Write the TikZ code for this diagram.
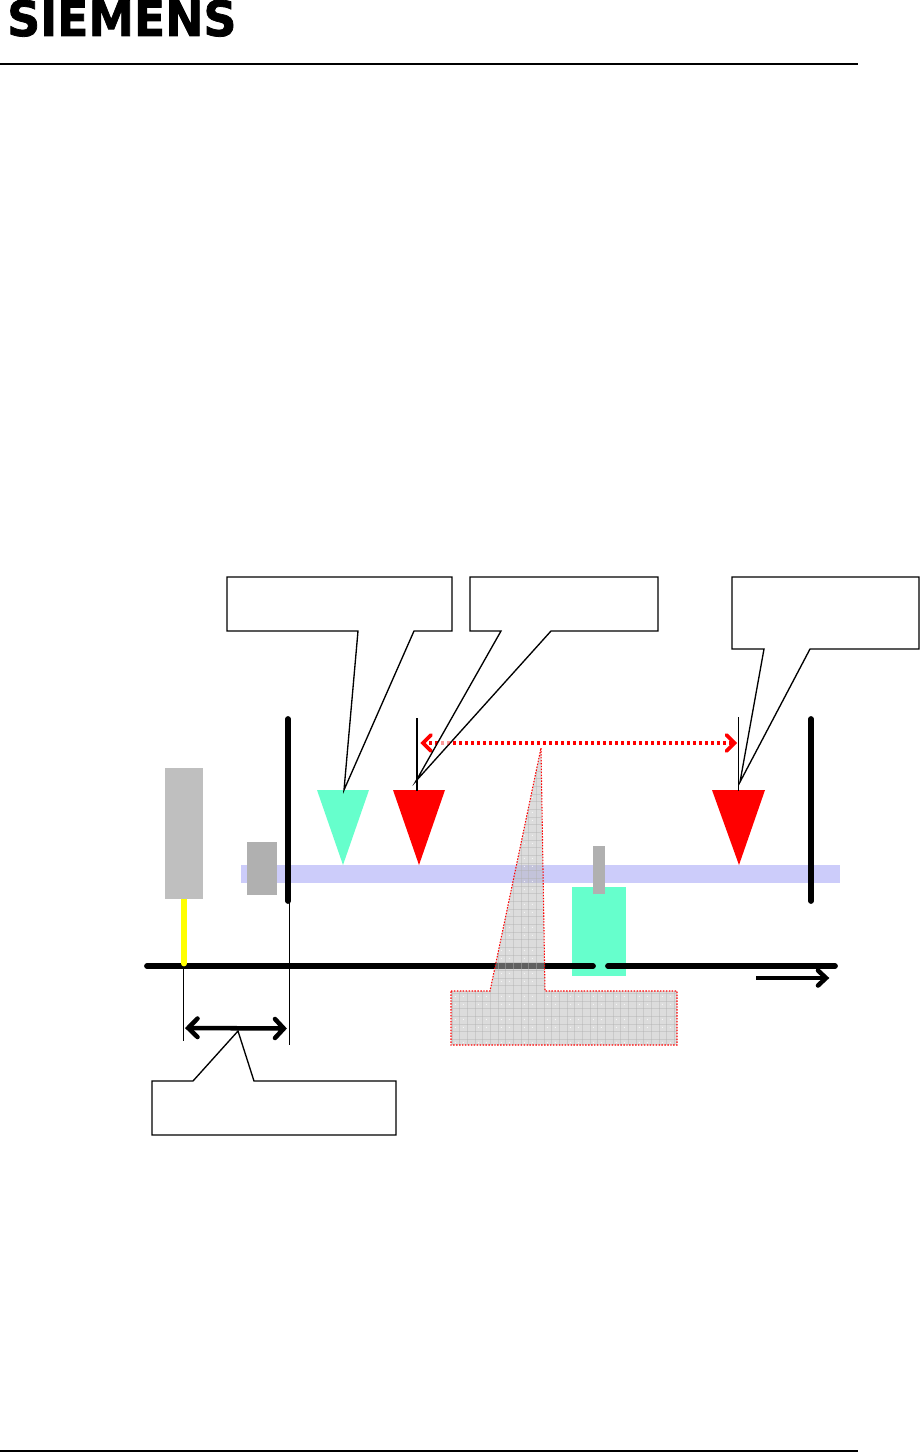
\documentclass[tikz,border=0pt]{standalone}
\usepackage{fontspec}
\setmainfont{DejaVu Sans}[BoldFeatures={FakeBold=1.6}]
\definecolor{mint}{RGB}{102,255,204}
\definecolor{lav}{RGB}{204,204,250}
\definecolor{sens}{RGB}{191,191,191}
\definecolor{block}{RGB}{176,176,176}
\definecolor{glass}{RGB}{188,188,188}
\definecolor{puryellow}{RGB}{255,255,0}
\definecolor{purred}{RGB}{255,0,0}
\tikzset{
  x=0.75pt,y=-0.75pt,
  rule/.style={draw=black,line width=0.9pt},
  thin line/.style={draw=black,line width=0.8pt},
  bar/.style={draw=black,line width=4.3pt,line cap=round},
  callout/.style={draw=black,fill=white,line width=1pt,line join=miter},
  mintfill/.style={fill=mint,draw=none},
  redtri/.style={fill=purred,draw=none},
  kshaft/.style={draw=black,line width=3.4pt},
  khead/.style={draw=black,line width=3.4pt,line cap=round,line join=miter},
  rshaft/.style={draw=purred,line width=2.5pt,dash pattern=on 2.4pt off 2.1pt},
  rhead/.style={draw=purred,line width=2.7pt,line cap=round,line join=miter},
}
\begin{document}
\begin{tikzpicture}
\useasboundingbox (0,0) rectangle (921,1452);
\fill[white] (0,0) rectangle (921,1452);
% header and footer
\node[anchor=base west,inner sep=0pt,font=\bfseries\fontsize{36.5pt}{36.5pt}\selectfont,xscale=0.94] (logo) at (7,36) {SIEMENS};
\coordinate (hl) at (0,64); \coordinate (hr) at (858,64);
\draw[rule] (hl) -- (hr);
\coordinate (fl) at (0,1451); \coordinate (fr) at (858,1451);
\draw[rule] (fl) -- (fr);
% band
\fill[lav] (241,865) rectangle (840,883);
% thin guides
\coordinate (g1a) at (417,718); \coordinate (g1b) at (417,791);
\coordinate (g2a) at (738.5,717); \coordinate (g2b) at (738.5,791);
\coordinate (g3a) at (183.5,966); \coordinate (g3b) at (183.5,1041);
\coordinate (g4a) at (289.5,901); \coordinate (g4b) at (289.5,1045);
\draw[thin line] (g3a)--(g3b);
\draw[thin line] (g4a)--(g4b);
% green box
\fill[mint] (572,887) rectangle (626,976);
% main line
\coordinate (m1) at (147,966); \coordinate (m2) at (593,966);
\coordinate (m3) at (608,966); \coordinate (m4) at (835,966);
\draw[bar] (m1)--(m2);
\draw[bar] (m3)--(m4);
% sensor
\coordinate (ya) at (184,895); \coordinate (yb) at (184,963.5);
\draw[puryellow,line width=4.3pt,line cap=round] (ya)--(yb);
\fill[sens] (165,768) rectangle (203,899);
% blocks
\fill[block] (247,842) rectangle (277,895);
\fill[block] (593,846) rectangle (605,894);
% bars
\coordinate (b1a) at (288,719); \coordinate (b1b) at (288,901);
\coordinate (b2a) at (811,719); \coordinate (b2b) at (811,901);
\draw[bar] (b1a)--(b1b);
\draw[bar] (b2a)--(b2b);
% triangles
\path[mintfill] (317,790)--(369,790)--(343,865)--cycle;
\path[redtri] (393,790)--(445,790)--(419,865)--cycle;
\path[redtri] (712,790)--(765,790)--(739,865)--cycle;
\draw[thin line] (g1a)--(g1b);
\draw[thin line] (g2a)--(g2b);
% glass callout
\begin{scope}
\clip (451,991)--(490,991)--(541,748)--(545,991)--(677,991)--(677,1045)--(451,1045)--cycle;
\fill[glass,fill opacity=.51] (440,740) rectangle (690,1050);
\foreach \i in {0,...,29} \draw[black!30,line width=0.5pt,opacity=.45] (452+\i*7.67,740)--(452+\i*7.67,1050);
\foreach \i in {0,...,40} \draw[black!30,line width=0.5pt,opacity=.45] (440,1047-\i*7.67)--(690,1047-\i*7.67);
\foreach \i in {0,...,9} \foreach \j in {0,...,12} {
  \fill[white] (455.3+\i*23,1042.3-\j*23) circle[radius=0.55];
  \fill[white] (463.3+\i*23,1042.3-\j*23) circle[radius=0.55];
  \fill[white] (455.3+\i*23,1027.3-\j*23) circle[radius=0.55];
  \fill[white] (463.3+\i*23,1027.3-\j*23) circle[radius=0.55];
}
\end{scope}
\draw[purred,line width=0.8pt,dash pattern=on 1.1pt off 1.1pt] (451,991)--(490,991)--(541,748)--(545,991)--(677,991)--(677,1045)--(451,1045)--cycle;
% red arrow
\coordinate (ra) at (423,743); \coordinate (rb) at (734.5,743);
\draw[rshaft] (ra)--(rb);
\draw[rhead] (431,735)--(ra)--(431,751);
\draw[rhead] (726.5,735)--(rb)--(726.5,751);
% black double arrow
\coordinate (ka) at (188.2,1028); \coordinate (kb) at (283.8,1028.5);
\draw[kshaft] (ka)--(kb);
\draw[khead] (197.5,1018.5)--(ka)--(197.5,1037);
\draw[khead] (275,1019)--(kb)--(275,1038);
% direction arrow
\coordinate (da) at (756,978); \coordinate (db) at (826,978);
\draw[kshaft] (da)--(db);
\draw[khead] (818,970.5)--(db)--(818,985.5);
% callouts
\draw[callout] (227,577)--(452,577)--(452,631)--(414,631)--(344,790)--(358,631)--(227,631)--cycle;
\draw[callout] (470,577)--(658,577)--(658,631)--(551,631)--(416,781)--(501,631)--(470,631)--cycle;
\draw[callout] (732,577)--(919,577)--(919,649)--(810,649)--(740,782)--(764,649)--(732,649)--cycle;
\draw[callout] (152,1081)--(193,1081)--(238,1031)--(254,1081)--(396,1081)--(396,1135)--(152,1135)--cycle;
% red arrow seen faintly through the callout tail
\begin{scope}
\clip (551,631)--(416,781)--(501,631)--cycle;
\draw[rshaft,draw opacity=.4] (ra)--(rb);
\end{scope}
\end{tikzpicture}
\end{document}
